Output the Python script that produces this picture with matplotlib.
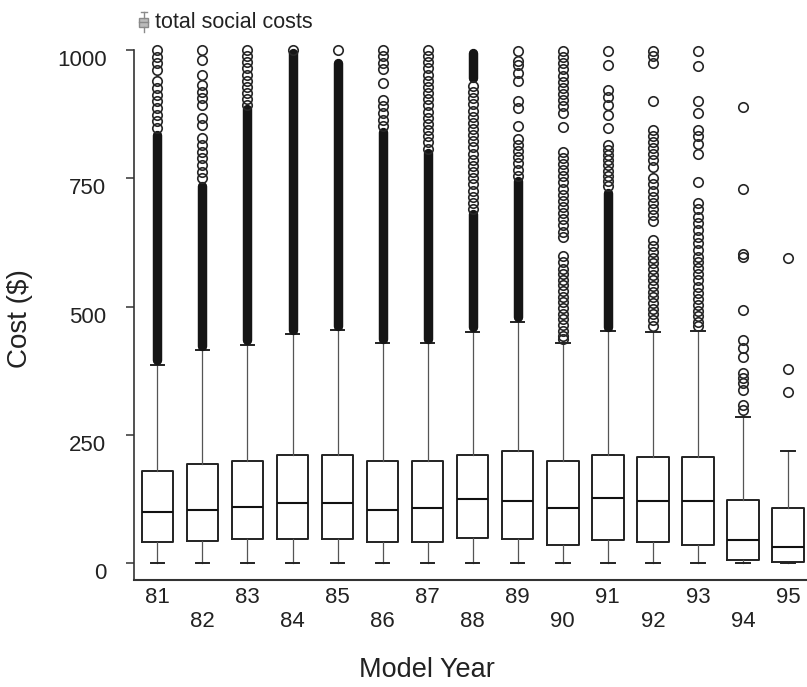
import matplotlib
matplotlib.use("Agg")
import matplotlib.pyplot as plt
from matplotlib.lines import Line2D
from matplotlib.patches import Rectangle

plt.rcParams['font.family'] = ['Liberation Sans', 'DejaVu Sans']

# ---------------- data ----------------
years = ['81', '82', '83', '84', '85', '86', '87', '88', '89', '90', '91', '92', '93', '94', '95']
q1 = [41, 43, 46, 47, 47, 42, 42, 48, 47, 36, 45, 42, 35, 6, 3]
med = [99, 103, 110, 118, 118, 103, 108, 124, 121, 108, 127, 121, 121, 45, 32]
q3 = [180, 194, 199, 210, 210, 199, 199, 210, 218, 198, 210, 206, 206, 123, 107]
whislo = [0, 0, 0, 0, 0, 0, 0, 0, 0, 0, 0, 0, 0, 0, 0]
whishi = [386, 415, 425, 446, 454, 428, 428, 451, 470, 429, 452, 450, 453, 285, 218]

# individually visible outlier circles
out_81 = [1000, 987, 974, 961, 939, 926, 913, 900, 887, 874, 861, 848]
out_82 = [1000, 980, 951, 932, 919, 906, 893, 867, 854, 828, 815, 802, 789, 776, 763, 750]
out_83 = [1000, 988, 976, 964, 952, 940, 928, 916, 904, 892]
out_84 = [1000]
out_85 = [1000]
out_86 = [1000, 988, 975, 962, 935, 903, 890, 877, 864, 851]
out_87 = [1000, 988, 976, 964, 952, 940, 928, 916, 904, 892, 880, 868, 856, 844, 832, 820, 808]
out_88 = [930, 918, 906, 894, 882, 870, 858, 846, 834, 822, 810, 798, 786, 774, 762, 750,
          738, 726, 714, 702, 690]
out_89 = [998, 979, 970, 955, 940, 900, 887, 851, 827, 815, 803, 791, 779, 767, 755]
out_90 = [998, 986, 974, 962, 950, 938, 926, 914, 902, 890, 878, 850, 802, 790, 778, 766, 754,
          742, 730, 718, 706, 694, 682, 670, 658, 646, 636, 598, 586, 574, 563, 552, 541, 530,
          519, 508, 497, 486, 475, 464, 453, 442, 436]
out_91 = [998, 971, 922, 909, 893, 873, 847, 815, 805, 795, 785, 775, 765, 755, 745, 735]
out_92 = [998, 988, 975, 900, 845, 833, 821, 809, 797, 785, 772, 750, 738, 726, 714, 702, 690,
          678, 666, 630, 618, 606, 595, 584, 573, 562, 551, 540, 529, 518, 507, 496, 485, 474, 463]
out_93 = [998, 968, 900, 878, 845, 833, 816, 797, 743, 701, 690, 675, 663, 649, 636, 623, 610,
          597, 586, 575, 563, 551, 539, 527, 515, 503, 492, 481, 470, 462]
out_94 = [889, 730, 602, 596, 494, 435, 419, 402, 370, 360, 351, 337, 308, 298]
out_95 = [594, 378, 333]
outliers = [out_81, out_82, out_83, out_84, out_85, out_86, out_87, out_88, out_89, out_90,
            out_91, out_92, out_93, out_94, out_95]

# ranges where outlier circles overlap into solid black columns
band_years = ['81', '82', '83', '84', '85', '86', '87', '88', '88', '89', '91']
band_lo = [395, 424, 434, 455, 463, 437, 437, 460, 945, 479, 461]
band_hi = [835, 735, 885, 995, 975, 840, 800, 680, 995, 745, 722]

legend_text = 'total social costs'

# ---------------- figure ----------------
W, H = 807, 687
fig = plt.figure(figsize=(W / 100, H / 100), dpi=100)
ax = fig.add_axes([133.5 / W, 1 - 580 / H, (806 - 133.5) / W, (580 - 50) / H])

positions = list(range(1, len(years) + 1))
stats = []
for i, y in enumerate(years):
    stats.append(dict(label=y, q1=q1[i], med=med[i], q3=q3[i],
                      whislo=whislo[i], whishi=whishi[i], fliers=outliers[i]))

bp = ax.bxp(stats, positions=positions, widths=0.7, capwidths=0.3,
            showfliers=True, manage_ticks=False,
            boxprops=dict(color='#222222', lw=1.4),
            whiskerprops=dict(color='#555555', lw=0.9),
            capprops=dict(color='#222222', lw=1.4),
            medianprops=dict(color='#111111', lw=1.5),
            flierprops=dict(marker='o', markersize=6.8, markerfacecolor='none',
                            markeredgecolor='#262626', markeredgewidth=1.2, linestyle='none'))
for f in bp['fliers']:
    f.set_clip_on(False)
    f.set_zorder(3)

band_pos = [positions[years.index(y)] for y in band_years]
lc = ax.vlines(band_pos, band_lo, band_hi, colors='#151515', lw=6.8, zorder=2.5)
lc.set_capstyle('round')
lc.set_clip_on(False)

ax.set_xlim(0.47, 15.40)
ax.set_ylim(-33, 1000)

for s in ['top', 'right']:
    ax.spines[s].set_visible(False)
ax.spines['left'].set_color('#333333')
ax.spines['left'].set_linewidth(1.2)
ax.spines['bottom'].set_color('#333333')
ax.spines['bottom'].set_linewidth(1.5)

ax.set_yticks([0, 250, 500, 750, 1000], ['0', '250', '500', '750', '1000'])
ax.tick_params(axis='y', length=6, width=1.1, pad=13.5, labelsize=16,
               color='#333333', labelcolor='#222222')
for t in ax.get_yticklabels():
    t.set_verticalalignment('top')

ax.set_xticks(positions[0::2], years[0::2])
ax.set_xticks(positions[1::2], years[1::2], minor=True)
ax.tick_params(axis='x', which='both', length=0, labelsize=16, labelcolor='#222222')
ax.tick_params(axis='x', which='major', pad=5)
ax.tick_params(axis='x', which='minor', pad=22)

ax.set_xlabel('Model Year', fontsize=19.5, color='#222222')
ax.xaxis.set_label_coords(0.437, -0.145)
ax.set_ylabel('Cost ($)', fontsize=20, color='#222222')
ax.yaxis.set_label_coords(-0.150, 0.494)

# legend glyph + text at top
def fp(x, y):
    return x / W, 1 - y / H

gcol = '#8a8a8a'
x0, x1 = 139, 148
fig.add_artist(Rectangle(fp(x0, 27), (x1 - x0) / W, 9 / H, transform=fig.transFigure,
                         facecolor='#bbbbbb', edgecolor=gcol, lw=1.0))
fig.add_artist(Line2D([fp(143.5, 12)[0], fp(143.5, 18)[0]], [fp(143.5, 12)[1], fp(143.5, 18)[1]],
                      transform=fig.transFigure, color=gcol, lw=1.0))
fig.add_artist(Line2D([fp(143.5, 27)[0], fp(143.5, 32)[0]], [fp(143.5, 27)[1], fp(143.5, 32)[1]],
                      transform=fig.transFigure, color=gcol, lw=1.0))
fig.add_artist(Line2D([fp(140.5, 12)[0], fp(146.5, 12)[0]], [fp(140.5, 12)[1], fp(146.5, 12)[1]],
                      transform=fig.transFigure, color=gcol, lw=1.0))
fig.add_artist(Line2D([fp(x0, 22)[0], fp(x1, 22)[0]], [fp(x0, 22)[1], fp(x1, 22)[1]],
                      transform=fig.transFigure, color=gcol, lw=1.0))
fig.text(*fp(155, 23), legend_text, fontsize=15.5, ha='left', va='center', color='#222222')

fig.savefig('out.png', dpi=100)
